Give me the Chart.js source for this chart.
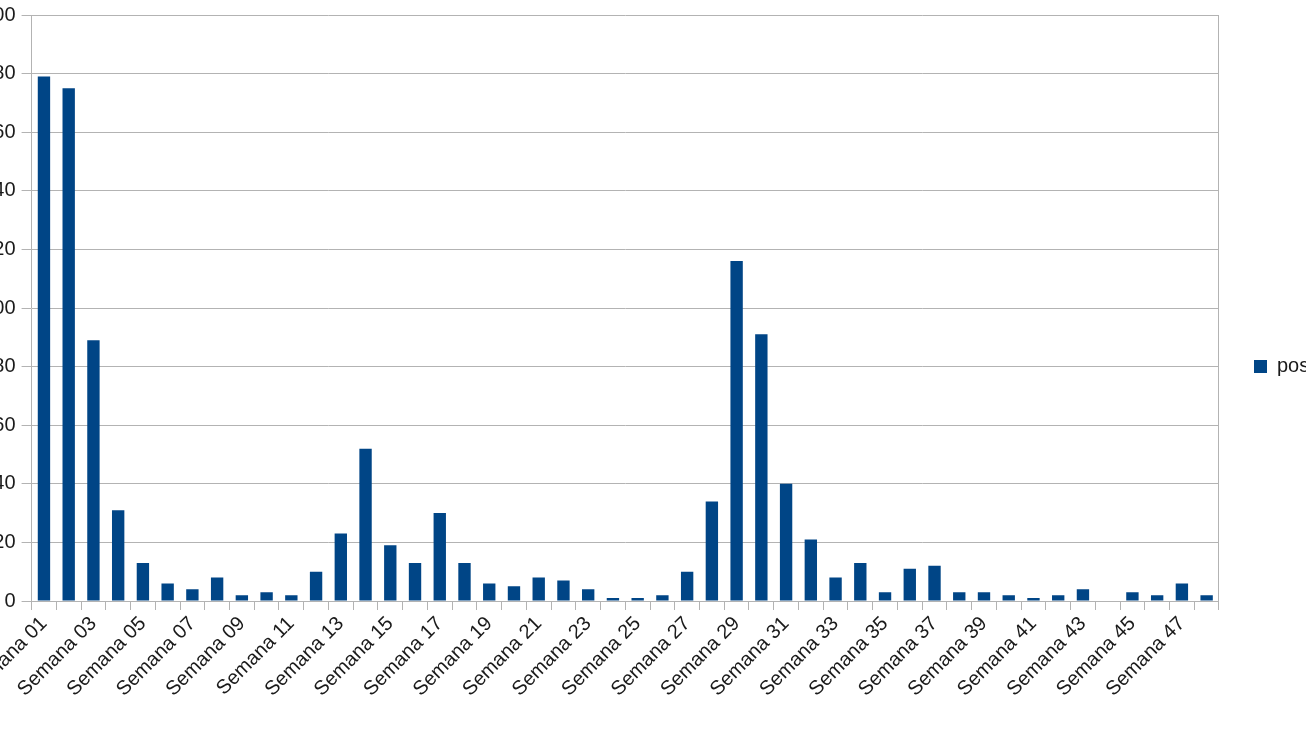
<!DOCTYPE html>
<html>
<head>
<meta charset="utf-8">
<script src="https://cdn.jsdelivr.net/npm/chart.js@4/dist/chart.umd.min.js"></script>
<style>
  html, body { margin: 0; padding: 0; background: #fff; overflow: hidden; }
  #chart { position: absolute; left: -31px; top: 0; }
</style>
</head>
<body>
<canvas id="chart" width="1337" height="733"></canvas>
<script>
const weeks = Array.from({ length: 48 }, (_, i) => 'Semana ' + String(i + 1).padStart(2, '0'));
const pos = [179, 175, 89, 31, 13, 6, 4, 8, 2, 3, 2, 10,
             23, 52, 19, 13, 30, 13, 6, 5, 8, 7, 4, 1,
             1, 2, 10, 34, 116, 91, 40, 21, 8, 13, 3, 11,
             12, 3, 3, 2, 1, 2, 4, 0, 3, 2, 6, 2];
const yTicks = [0, 20, 40, 60, 80, 100, 120, 140, 160, 180, 200];

const grey = '#b3b3b3';
const font = { family: 'Liberation Sans, Arial, sans-serif', size: 20 };

new Chart(document.getElementById('chart'), {
  type: 'bar',
  data: {
    labels: weeks,
    datasets: [{ label: 'pos', data: pos, backgroundColor: '#004586',
      categoryPercentage: 1, barPercentage: 0.5 }]
  },
  options: {
    responsive: false,
    animation: false,
    layout: { padding: 0 },
    plugins: {
      tooltip: { enabled: false },
      legend: {
        position: 'right',
        maxWidth: 87,
        labels: { boxWidth: 13, boxHeight: 13, padding: 35, color: '#1a1a1a', font }
      }
    },
    scales: {
      x: {
        grid: {
          offset: true,
          drawOnChartArea: true,
          color: ctx => ctx.type === 'scale' ? grey : 'rgba(0,0,0,0)',
          tickColor: grey,
          tickLength: 9
        },
        border: { color: grey },
        ticks: {
          autoSkip: false, minRotation: 45, maxRotation: 45,
          color: '#1a1a1a', font, padding: 2,
          callback: (v, i) => i % 2 === 0 ? weeks[i] : ''
        },
        afterFit: s => { s.height = 132; }
      },
      y: {
        min: 0, max: 200,
        afterBuildTicks: s => { s.ticks = yTicks.map(v => ({ value: v })); },
        grid: { color: grey, tickLength: 10 },
        border: { color: grey },
        ticks: { color: '#1a1a1a', font: { ...font, lineHeight: 0.9 }, padding: 6 },
        afterFit: s => { s.width = 60; }
      }
    }
  }
});
</script>
</body>
</html>
